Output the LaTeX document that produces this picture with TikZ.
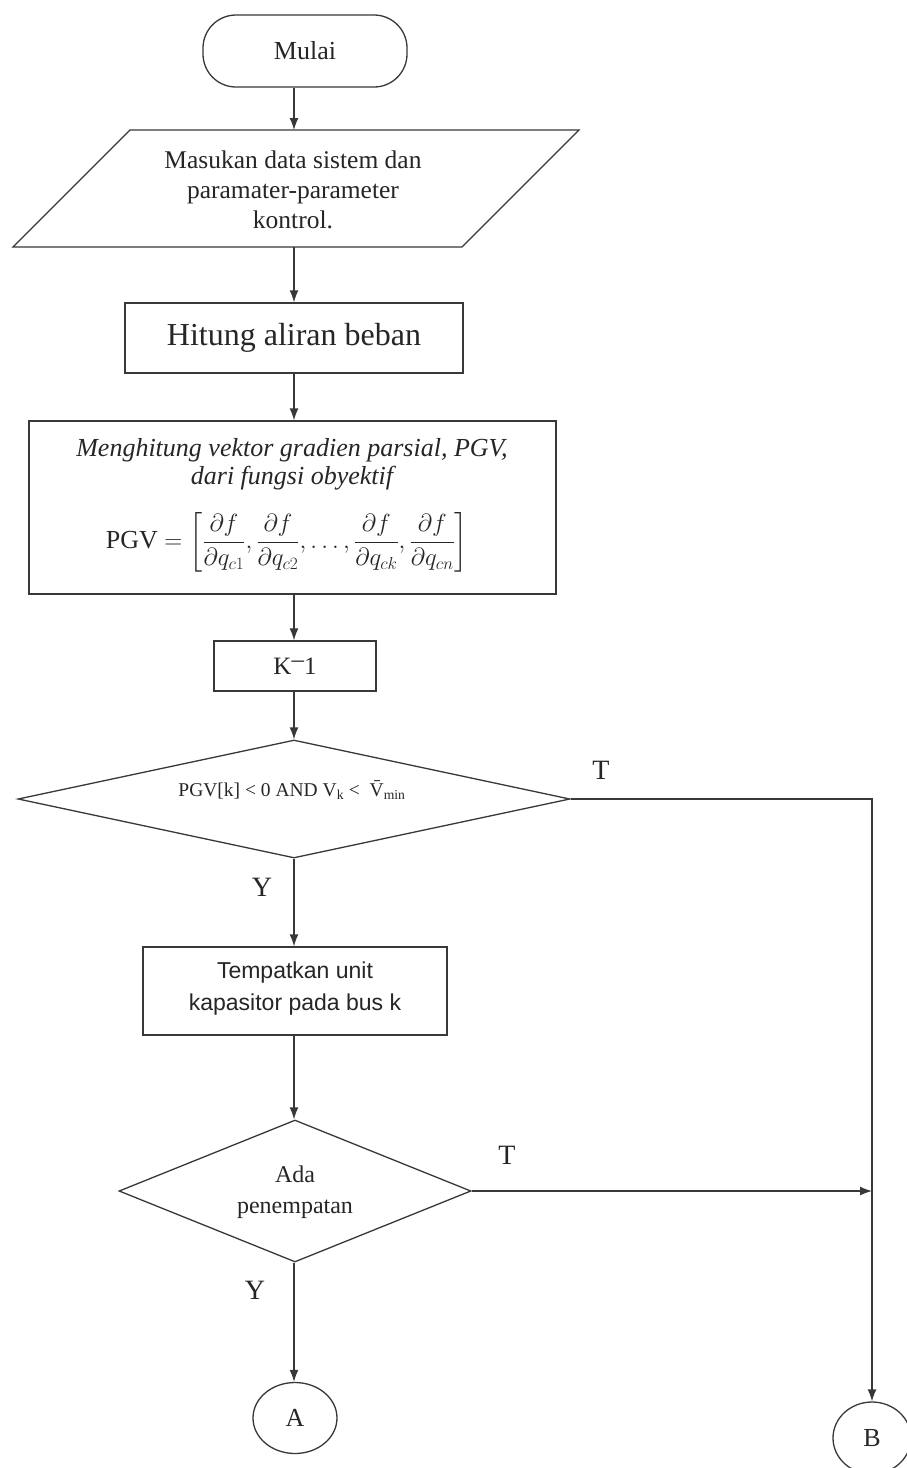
\documentclass[tikz,border=0pt]{standalone}
\usepackage{amsmath}
\usepackage{fontspec}
\setmainfont{Liberation Serif}
\newfontfamily\boxsans{Liberation Sans}
\usetikzlibrary{shapes.geometric,arrows.meta}

\begin{document}
\begin{tikzpicture}[x=1pt,y=-1pt,
  line/.style={draw=black!78, line width=1.3pt},
  arr/.style={line, -{Latex[length=12pt,width=9pt]}},
  procbox/.style={line, rectangle, inner sep=0pt},
  decision/.style={line, diamond, inner sep=0pt},
  connector/.style={line, ellipse, inner sep=0pt},
  txt/.style={inner sep=0pt, text=black!85, align=center},
  lbl/.style={inner sep=0pt, text=black!85, font=\fontsize{28}{30}\selectfont}]

\useasboundingbox (0,0) rectangle (906,1468);
\fill[white] (0,0) rectangle (906,1468);

% common vertical axis of the main flow
\coordinate (ax) at (294,0);

% start terminator
\node[procbox, rounded corners=33pt, minimum width=204pt, minimum height=72pt,
      font=\fontsize{26}{30}\selectfont, text=black!85] (mulai) at (305,51) {Mulai};

% input parallelogram
\draw[line] (13,247) -- (130,130) -- (579,130) -- (462,247) -- cycle;
\coordinate (ptop) at (294,130);
\coordinate (pbot) at (294,247);
\node[txt, font=\fontsize{25.5}{30}\selectfont] (input) at (293,190)
  {Masukan data sistem dan\\paramater-parameter\\kontrol.};

% load flow
\node[procbox, minimum width=338pt, minimum height=70pt,
      font=\fontsize{32}{36}\selectfont, text=black!85] (hitung) at (294,338) {Hitung aliran beban};

% partial gradient vector
\node[procbox, minimum width=527pt, minimum height=173pt] (pgv) at (292.5,507.5) {};
\node[txt, font=\fontsize{26}{30}\selectfont\itshape] (pgvA) at (292,450)
  {Menghitung vektor gradien parsial, PGV,};
\node[txt, font=\fontsize{26}{30}\selectfont\itshape] (pgvB) at (292,478)
  {dari fungsi obyektif};
\node[txt, font=\fontsize{26}{30}\selectfont] (pgvF) at (287,542)
  {PGV $= \left[\dfrac{\partial f}{\partial q_{c1}},\dfrac{\partial f}{\partial q_{c2}},\dots,\dfrac{\partial f}{\partial q_{ck}},\dfrac{\partial f}{\partial q_{cn}}\right]$};

% counter initialisation
\node[procbox, minimum width=162pt, minimum height=50pt,
      font=\fontsize{25}{30}\selectfont, text=black!85] (kinit) at (295,666)
  {K\raisebox{0.28em}{--}1};

% first decision
\node[decision, minimum width=552pt, minimum height=118pt] (d1) at (294,799) {};
\node[txt, font=\fontsize{19.5}{22}\selectfont] (d1t) at (292,790)
  {PGV[k] < 0 AND V\textsubscript{k} <\ \ \=V\textsubscript{min}};

% capacitor placement
\node[procbox, minimum width=304pt, minimum height=88pt] (place) at (295,991) {};
\node[txt, font=\boxsans\fontsize{23}{32}\selectfont] (placet) at (295,989)
  {Tempatkan unit\\kapasitor pada bus k};

% second decision
\node[decision, minimum width=352pt, minimum height=142pt] (d2) at (295,1191) {};
\node[txt, font=\fontsize{24}{31}\selectfont] (d2t) at (295,1192) {Ada\\penempatan};

% off-page connectors
\node[connector, minimum width=84pt, minimum height=71pt,
      font=\fontsize{26}{30}\selectfont, text=black!85] (conA) at (295,1418) {A};
\node[connector, minimum width=78pt, minimum height=72pt,
      font=\fontsize{26}{30}\selectfont, text=black!85] (conB) at (872,1438) {B};

% branch labels
\node[lbl] (t1) at (601,770) {T};
\node[lbl] (y1) at (262,887) {Y};
\node[lbl] (t2) at (507,1155) {T};
\node[lbl] (y2) at (255,1290) {Y};

% main flow
\draw[arr] (mulai.south -| ax) -- (ptop);
\draw[arr] (pbot) -- (hitung.north -| ax);
\draw[arr] (hitung.south -| ax) -- (pgv.north -| ax);
\draw[arr] (pgv.south -| ax) -- (kinit.north -| ax);
\draw[arr] (kinit.south -| ax) -- (d1.north);
\draw[arr] (d1.south) -- (place.north -| ax);
\draw[arr] (place.south -| ax) -- (d2.north -| ax);
\draw[arr] (d2.south -| ax) -- (conA.north -| ax);

% false branches
\draw[arr] (d1.east) -| (conB.north);
\draw[arr] (d2.east) -- (d2.east -| conB.north);
\end{tikzpicture}
\end{document}
